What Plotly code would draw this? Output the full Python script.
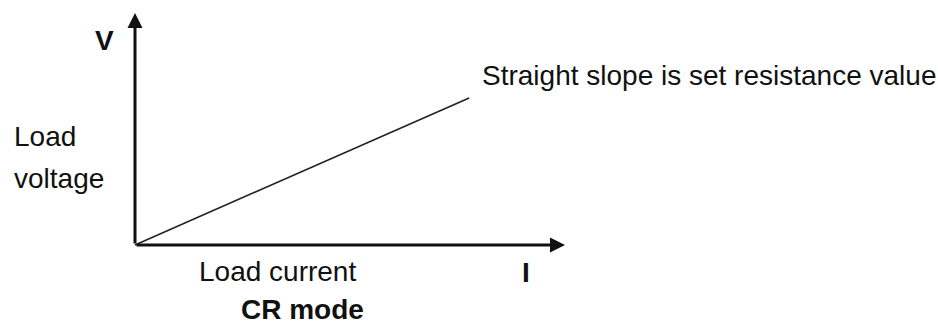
import plotly.graph_objects as go

# CR mode characteristic: load current (I) vs load voltage (V)
current = [0, 7.77]
voltage = [0, 6.34]
axis_max_i = 10
axis_max_v = 10

# pixel -> data helpers (origin of the sketch at 135,245; 43 px per I unit, 23.2 px per V unit)
X0, Y0, SX, SY = 135, 245, 43.0, 23.2
W, H = 938, 324


def px(x):
    return (x - X0) / SX


def py(y):
    return (Y0 - y) / SY


ink = "#111111"
font = dict(family="Arial, Liberation Sans, sans-serif", size=28, color=ink)

fig = go.Figure()
fig.add_trace(go.Scatter(x=current, y=voltage, mode="lines",
                         line=dict(color="#222222", width=1.6), hoverinfo="skip"))

# axes drawn as arrows
arrow = dict(showarrow=True, arrowhead=2, arrowsize=1.0, arrowwidth=3,
             arrowcolor=ink, axref="x", ayref="y", text="", standoff=0)
fig.add_annotation(x=axis_max_i, y=0, ax=0, ay=0, **arrow)
fig.add_annotation(x=0, y=axis_max_v, ax=0, ay=0, **arrow)

labels = [
    ("Straight slope is set resistance value", px(480), py(75), "left"),
    ("Load", px(12), py(136), "left"),
    ("voltage", px(12), py(178), "left"),
    ("Load current", px(197), py(271), "left"),
    ("<b>V</b>", px(104), py(40), "center"),
    ("<b>I</b>", px(526), py(272), "center"),
    ("<b>CR mode</b>", px(302), py(309), "center"),
]
for text, x, y, anchor in labels:
    fig.add_annotation(x=x, y=y, text=text, showarrow=False,
                       xanchor=anchor, yanchor="middle", font=font)

fig.update_xaxes(visible=False, range=[px(0), px(W)])
fig.update_yaxes(visible=False, range=[py(H), py(0)])
fig.update_layout(width=W, height=H, margin=dict(l=0, r=0, t=0, b=0),
                  plot_bgcolor="white", paper_bgcolor="white", showlegend=False)

# drop the page's default body margin so the figure fills the window
fig.write_html("out.html", config={"displayModeBar": False},
               post_script="document.body.style.margin='0';document.body.style.overflow='hidden';")
